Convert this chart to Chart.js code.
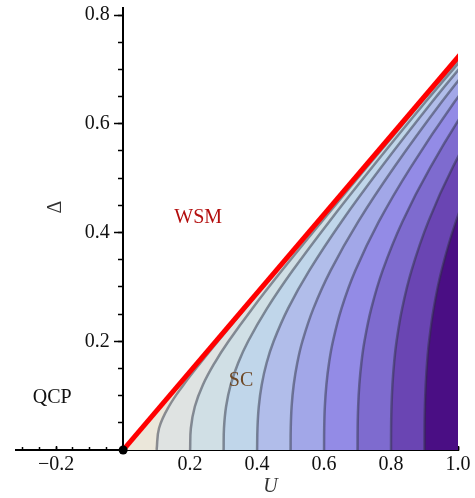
<!DOCTYPE html>
<html>
<head>
<meta charset="utf-8">
<script src="https://cdn.jsdelivr.net/npm/chart.js@4.4.1/dist/chart.umd.min.js"></script>
<style>
  html, body { margin: 0; padding: 0; background: #fff; }
  #wrap { width: 475px; height: 498px; }
</style>
</head>
<body>
<div id="wrap"><canvas id="graph" width="475" height="498"></canvas></div>
<script>
// values
const deltaGrid = [0, 0.04, 0.08, 0.12, 0.16, 0.2, 0.26, 0.33, 0.42, 0.52, 0.64, 0.8];
const contourLevels = [0.1, 0.2, 0.3, 0.4, 0.5, 0.6, 0.7, 0.8, 0.9];
// U position of each contour at the deltaGrid heights
const contourU = [
    [0.1, 0.1071, 0.1365, 0.1805, 0.2306, 0.2831, 0.3639, 0.4592, 0.5827, 0.7205, 0.8861, 1.1072],
    [0.2, 0.2022, 0.2141, 0.2383, 0.2729, 0.3147, 0.3854, 0.4740, 0.5928, 0.7275, 0.8911, 1.1105],
    [0.3, 0.3011, 0.3074, 0.3211, 0.3434, 0.3732, 0.4293, 0.5061, 0.6153, 0.7436, 0.9026, 1.1185],
    [0.4, 0.4011, 0.4050, 0.4138, 0.4283, 0.4494, 0.4922, 0.5556, 0.6519, 0.7707, 0.9223, 1.1322],
    [0.5, 0.5005, 0.5031, 0.5093, 0.5199, 0.5353, 0.5680, 0.6193, 0.7019, 0.8092, 0.9511, 1.1529],
    [0.6, 0.6004, 0.6023, 0.6069, 0.6148, 0.6265, 0.6519, 0.6934, 0.7634, 0.8586, 0.9893, 1.1807],
    [0.7, 0.7003, 0.7018, 0.7053, 0.7114, 0.7206, 0.7409, 0.7747, 0.8339, 0.9174, 1.0363, 1.2161],
    [0.8, 0.8002, 0.8014, 0.8042, 0.8091, 0.8165, 0.8330, 0.8611, 0.9113, 0.9843, 1.0916, 1.2589],
    [0.9, 0.9001, 0.9011, 0.9035, 0.9075, 0.9136, 0.9273, 0.9508, 0.9937, 1.0576, 1.1539, 1.3085]
];
// WSM / SC boundary (red line)
const boundaryU = [0, 1.107];
const boundaryDelta = [0, 0.8];
// quantum critical point
const qcpU = [0];
const qcpDelta = [0];

const xMajorTicks = [-0.2, 0, 0.2, 0.4, 0.6, 0.8, 1.0];
const xMinorTicks = [-0.3, -0.25, -0.2, -0.15, -0.1, -0.05, 0, 0.05, 0.1, 0.15, 0.2, 0.25, 0.3, 0.35, 0.4,
    0.45, 0.5, 0.55, 0.6, 0.65, 0.7, 0.75, 0.8, 0.85, 0.9, 0.95, 1.0];
const yMajorTicks = [0.2, 0.4, 0.6, 0.8];
const yMinorTicks = [0.05, 0.1, 0.15, 0.2, 0.25, 0.3, 0.35, 0.4, 0.45, 0.5, 0.55, 0.6, 0.65, 0.7, 0.75, 0.8];

const regionLabels = ['WSM', 'SC', 'QCP'];
const regionLabelU = [0.224, 0.352, -0.212];
const regionLabelDelta = [0.427, 0.127, 0.097];

// colours of the bands, from the red line to the right edge
const bandColors = ['#ebe7da', '#dfe3e2', '#d0dfe5', '#c0d6ea', '#b1bdea', '#a2a7e8',
    '#938be6', '#7e6bcf', '#6a45b3', '#4a0e84'];
const regionLabelColors = ['#b30d0d', '#6e4826', '#111111'];
const serif = "'Liberation Serif', 'DejaVu Serif', serif";

function toPoints(us, ds) {
    return us.map(function (u, i) { return { x: u, y: ds[i] }; });
}

// the region to the right of a curve, closed far outside the plot
function regionPoints(us, ds) {
    const pts = toPoints(us, ds);
    pts.push({ x: 1.6, y: 1.2 });
    pts.push({ x: 1.6, y: 0 });
    return pts;
}

const datasets = [];
datasets.push({
    data: toPoints(qcpU, qcpDelta),
    pointRadius: 4.5,
    pointBackgroundColor: '#000',
    pointBorderWidth: 0,
    showLine: false,
    clip: false
});
datasets.push({
    data: toPoints(boundaryU, boundaryDelta),
    showLine: true,
    borderColor: '#ff0000',
    borderWidth: 5,
    pointRadius: 0,
    fill: false
});
for (let i = contourLevels.length - 1; i >= 0; i--) {
    datasets.push({
        data: regionPoints(contourU[i], deltaGrid),
        showLine: true,
        tension: 0.4,
        borderColor: 'rgba(45, 50, 65, 0.5)',
        borderWidth: 2.5,
        backgroundColor: bandColors[i + 1],
        fill: 'shape',
        pointRadius: 0
    });
}
datasets.push({
    data: regionPoints(boundaryU, boundaryDelta),
    showLine: true,
    tension: 0,
    borderWidth: 0,
    borderColor: 'transparent',
    backgroundColor: bandColors[0],
    fill: 'shape',
    pointRadius: 0
});

const textPlugin = {
    id: 'phaseText',
    afterDraw: function (chart) {
        const ctx = chart.ctx;
        const xs = chart.scales.x;
        const ys = chart.scales.y;
        ctx.save();
        ctx.textAlign = 'center';
        ctx.textBaseline = 'middle';
        ctx.font = '20px ' + serif;
        for (let i = 0; i < regionLabels.length; i++) {
            ctx.fillStyle = regionLabelColors[i];
            ctx.fillText(regionLabels[i], xs.getPixelForValue(regionLabelU[i]), ys.getPixelForValue(regionLabelDelta[i]));
        }
        // axis titles
        ctx.fillStyle = '#333';
        ctx.font = 'italic 20px ' + serif;
        ctx.fillText('U', xs.getPixelForValue(0.44), chart.chartArea.bottom + 37);
        ctx.translate(xs.getPixelForValue(-0.2), ys.getPixelForValue(0.447));
        ctx.rotate(-Math.PI / 2);
        ctx.font = '20px ' + serif;
        ctx.fillText('\u0394', 0, 0);
        ctx.restore();
    }
};

function fmt(v) {
    if (v === 0) return '';
    const s = v.toFixed(1);
    return v < 0 ? '\u2212' + s.slice(1) : s;
}

// axes sit inside the plot, so they should not take room from it
function noRoom(scale) {
    if (scale.isHorizontal()) {
        scale.height = 0;
    } else {
        scale.width = 0;
    }
    scale.paddingTop = 0;
    scale.paddingBottom = 0;
    scale.paddingLeft = 0;
    scale.paddingRight = 0;
}

function axis(ticksArr, tickLength, extra) {
    const base = {
        type: 'linear',
        afterBuildTicks: function (scale) {
            scale.ticks = ticksArr.map(function (v) { return { value: v }; });
        },
        afterFit: noRoom,
        border: { display: false },
        grid: {
            drawOnChartArea: false,
            drawTicks: tickLength !== 0,
            tickLength: tickLength,
            tickWidth: 1.5,
            tickColor: '#000'
        },
        ticks: {
            display: false,
            font: { family: serif, size: 20 },
            color: '#111',
            callback: function (v) { return fmt(v); }
        }
    };
    return Object.assign(base, extra);
}

const scales = {
    x: axis(xMajorTicks, -5, { min: -0.32, max: 1.0, position: { y: 0 } }),
    xMinor: axis(xMinorTicks, -3, { min: -0.32, max: 1.0, position: { y: 0 } }),
    y: axis(yMajorTicks, 8, { min: 0, max: 0.813, position: { x: 0 } }),
    yMinor: axis(yMinorTicks, 5, { min: 0, max: 0.813, position: { x: 0 } }),
    // tick labels of the vertical axis, set a little to the left of it
    yLabels: axis(yMajorTicks, 0, { min: 0, max: 0.813, position: { x: -0.04 } })
};
scales.x.border = { display: true, color: '#000', width: 2 };
scales.x.ticks.display = true;
scales.x.ticks.padding = 8;
scales.y.border = { display: true, color: '#000', width: 2 };
scales.yLabels.ticks.display = true;

new Chart(document.getElementById('graph'), {
    type: 'scatter',
    data: { datasets: datasets },
    options: {
        responsive: false,
        animation: false,
        devicePixelRatio: 1,
        layout: { autoPadding: false, padding: { left: 16, right: 17, top: 8, bottom: 48 } },
        plugins: { legend: { display: false }, tooltip: { enabled: false } },
        scales: scales
    },
    plugins: [textPlugin]
});
</script>
</body>
</html>
